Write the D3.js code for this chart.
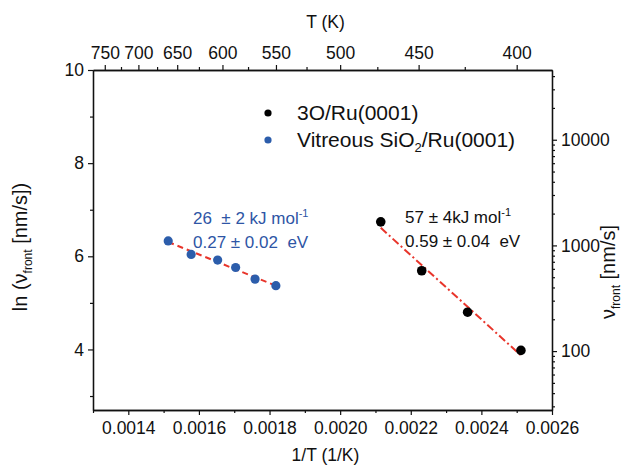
<!DOCTYPE html>
<html>
<head>
<meta charset="utf-8">
<script src="https://cdn.jsdelivr.net/npm/d3@7"></script>
<style>
  body { margin: 0; background: #fff; }
  text { font-family: "Liberation Sans", Arial, sans-serif; fill: #111; white-space: pre; }
</style>
</head>
<body>
<svg width="633" height="468"></svg>
<script>
// 3O/Ru(0001)
const oxideInvT = [0.002115, 0.002231, 0.002361, 0.002512];
const oxideLn = [6.74, 5.69, 4.80, 3.98];
// Vitreous SiO2/Ru(0001)
const silicaInvT = [0.001513, 0.001578, 0.001653, 0.001704, 0.001759, 0.001818];
const silicaLn = [6.33, 6.04, 5.92, 5.76, 5.51, 5.37];

const invTTicks = [0.0014, 0.0016, 0.0018, 0.0020, 0.0022, 0.0024, 0.0026];
const invTMinor = [0.0013, 0.0015, 0.0017, 0.0019, 0.0021, 0.0023, 0.0025];
const tempTicks = [750, 700, 650, 600, 550, 500, 450, 400];
const tempMinor = [725, 675, 625, 575, 525, 475, 425];
const lnTicks = [4, 6, 8, 10];
const lnMinor = [3, 5, 7, 9];
const rateTicks = [100, 1000, 10000];

const svg = d3.select("svg");
const width = +svg.attr("width");
const height = +svg.attr("height");
const margin = { top: 70, right: 81, bottom: 58, left: 93 };

const x = d3.scaleLinear()
    .domain([0.0013, 0.0026])
    .range([margin.left, width - margin.right]);

const y = d3.scaleLinear()
    .domain([2.7, 10])
    .range([height - margin.bottom, margin.top]);

// right axis: log scale of the front velocity
const yr = d3.scaleLog()
    .domain([27.7, 45700])
    .range([height - margin.bottom, margin.top]);

const rateMinor = [];
[10, 100, 1000, 10000].forEach(dec => {
    for (let k = 2; k <= 9; k++) {
        const v = dec * k;
        if (v > yr.domain()[0] && v < yr.domain()[1]) rateMinor.push(v);
    }
});

function styleAxis(g) {
    g.select(".domain").attr("stroke", "#111").attr("stroke-width", 1.3);
    g.selectAll(".tick line").attr("stroke", "#111").attr("stroke-width", 1.2);
    g.selectAll(".tick text").attr("font-size", 17.5).attr("fill", "#111")
        .attr("font-family", '"Liberation Sans", Arial, sans-serif');
}

const bottom = height - margin.bottom;
const right = width - margin.right;

// bottom axis
svg.append("g").attr("transform", `translate(0,${bottom})`)
    .call(d3.axisBottom(x).tickValues(invTMinor).tickFormat("").tickSize(3).tickSizeOuter(0))
    .call(styleAxis);
svg.append("g").attr("transform", `translate(0,${bottom})`)
    .call(d3.axisBottom(x).tickValues(invTTicks).tickFormat(d3.format(".4f")).tickSize(5).tickSizeOuter(0).tickPadding(7))
    .call(styleAxis);

// top axis (temperature)
svg.append("g").attr("transform", `translate(0,${margin.top})`)
    .call(d3.axisTop(x).tickValues(tempMinor.map(t => 1 / t)).tickFormat("").tickSize(3).tickSizeOuter(0))
    .call(styleAxis);
svg.append("g").attr("transform", `translate(0,${margin.top})`)
    .call(d3.axisTop(x).tickValues(tempTicks.map(t => 1 / t)).tickFormat(d => Math.round(1 / d)).tickSize(5).tickSizeOuter(0).tickPadding(6))
    .call(styleAxis);

// left axis
svg.append("g").attr("transform", `translate(${margin.left},0)`)
    .call(d3.axisLeft(y).tickValues(lnMinor).tickFormat("").tickSize(3).tickSizeOuter(0))
    .call(styleAxis);
svg.append("g").attr("transform", `translate(${margin.left},0)`)
    .call(d3.axisLeft(y).tickValues(lnTicks).tickFormat(d3.format("d")).tickSize(5).tickSizeOuter(0).tickPadding(4))
    .call(styleAxis);

// right axis
svg.append("g").attr("transform", `translate(${right},0)`)
    .call(d3.axisRight(yr).tickValues(rateMinor).tickFormat("").tickSize(3).tickSizeOuter(0))
    .call(styleAxis);
svg.append("g").attr("transform", `translate(${right},0)`)
    .call(d3.axisRight(yr).tickValues(rateTicks).tickFormat(d3.format("d")).tickSize(5).tickSizeOuter(0).tickPadding(4))
    .call(styleAxis);

// axis titles
svg.append("text")
    .attr("x", (margin.left + right) / 2 + 3).attr("y", 461)
    .attr("text-anchor", "middle").attr("font-size", 17.5)
    .text("1/T (1/K)");

svg.append("text")
    .attr("x", (margin.left + right) / 2 + 3).attr("y", 28)
    .attr("text-anchor", "middle").attr("font-size", 17.5)
    .text("T (K)");

const leftTitle = svg.append("text")
    .attr("transform", "translate(27,247) rotate(-90)")
    .attr("text-anchor", "middle").attr("font-size", 20);
leftTitle.append("tspan").text("ln (ν");
leftTitle.append("tspan").attr("font-size", 12).attr("dy", 5).text("front");
leftTitle.append("tspan").attr("dy", -5).text(" [nm/s])");

const rightTitle = svg.append("text")
    .attr("transform", "translate(615,272) rotate(-90)")
    .attr("text-anchor", "middle").attr("font-size", 20);
rightTitle.append("tspan").text("ν");
rightTitle.append("tspan").attr("font-size", 12).attr("dy", 5).text("front");
rightTitle.append("tspan").attr("dy", -5).text(" [nm/s]");

// least-squares fit lines
function fitLine(xs, ys) {
    const mx = d3.mean(xs), my = d3.mean(ys);
    const slope = d3.sum(xs, (v, i) => (v - mx) * (ys[i] - my)) / d3.sum(xs, v => (v - mx) ** 2);
    const x0 = d3.min(xs), x1 = d3.max(xs);
    return [[x0, my + slope * (x0 - mx)], [x1, my + slope * (x1 - mx)]];
}

const line = d3.line().x(d => x(d[0])).y(d => y(d[1]));

svg.append("path")
    .datum(fitLine(silicaInvT, silicaLn))
    .attr("d", line)
    .attr("fill", "none").attr("stroke", "#e8352b").attr("stroke-width", 2)
    .attr("stroke-dasharray", "6,4");

svg.append("path")
    .datum(fitLine(oxideInvT, oxideLn))
    .attr("d", line)
    .attr("fill", "none").attr("stroke", "#e8352b").attr("stroke-width", 2)
    .attr("stroke-dasharray", "8,3,2,3");

// points
svg.append("g").selectAll("circle")
    .data(d3.zip(silicaInvT, silicaLn))
    .enter().append("circle")
    .attr("cx", d => x(d[0]))
    .attr("cy", d => y(d[1]))
    .attr("r", 4.6)
    .attr("fill", "#2c5dab");

svg.append("g").selectAll("circle")
    .data(d3.zip(oxideInvT, oxideLn))
    .enter().append("circle")
    .attr("cx", d => x(d[0]))
    .attr("cy", d => y(d[1]))
    .attr("r", 4.8)
    .attr("fill", "#000");

// legend
const legend = svg.append("g").attr("transform", "translate(268,113)");
legend.append("circle").attr("cx", 0).attr("cy", 0).attr("r", 3.6).attr("fill", "#000");
legend.append("text").attr("x", 29).attr("y", 7).attr("font-size", 21).text("3O/Ru(0001)");
legend.append("circle").attr("cx", 0).attr("cy", 27).attr("r", 3.6).attr("fill", "#2c5dab");
const lt = legend.append("text").attr("x", 29).attr("y", 34).attr("font-size", 21);
lt.append("tspan").text("Vitreous SiO");
lt.append("tspan").attr("font-size", 13).attr("dy", 5).text("2");
lt.append("tspan").attr("dy", -5).text("/Ru(0001)");

// activation energy annotations
const blueTxt = "#2e55a5";
const a1 = svg.append("text").attr("x", 193).attr("y", 224).attr("font-size", 17).style("fill", blueTxt);
a1.append("tspan").text("26  ± 2 kJ mol");
a1.append("tspan").attr("font-size", 11).attr("dy", -7).text("-1");
svg.append("text").attr("x", 193).attr("y", 248).attr("font-size", 17).style("fill", blueTxt)
    .text("0.27 ± 0.02  eV");

const a2 = svg.append("text").attr("x", 405).attr("y", 223).attr("font-size", 17);
a2.append("tspan").text("57 ± 4kJ mol");
a2.append("tspan").attr("font-size", 11).attr("dy", -7).text("-1");
svg.append("text").attr("x", 405).attr("y", 247).attr("font-size", 17)
    .text("0.59 ± 0.04  eV");
</script>
</body>
</html>
